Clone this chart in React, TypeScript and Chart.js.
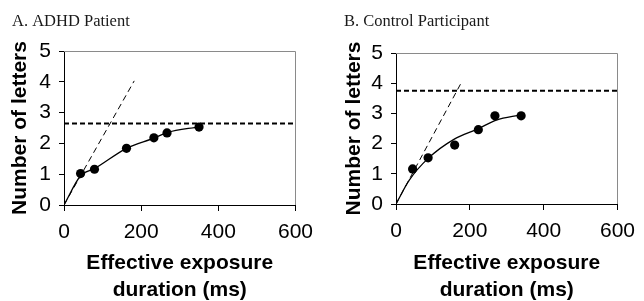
import React, { useEffect, useRef } from "react";
import { Chart, registerables } from "chart.js";

Chart.register(...registerables);

// ---- shared axis ticks ----
const xTickValues = [0, 200, 400, 600];
const yTickValues = [0, 1, 2, 3, 4, 5];
const xAxisTitle = ["Effective exposure", "duration (ms)"];
const yAxisTitle = "Number of letters";

// ---- Panel A: ADHD patient ----
const adhdLabel = "A. ADHD Patient";
const adhdExposure = [43, 79, 162, 233, 267, 350];
const adhdLetters = [1.02, 1.16, 1.84, 2.18, 2.34, 2.53];
const adhdFitExposure = [0, 43, 79, 162, 233, 267, 350];
const adhdFitLetters = [0, 0.95, 1.18, 1.84, 2.17, 2.35, 2.54];
const adhdSlopeExposure = [0, 182];
const adhdSlopeLetters = [0, 4.03];
const adhdCapacityExposure = [0, 600];
const adhdCapacity = [2.65, 2.65];

// ---- Panel B: Control participant ----
const ctrlLabel = "B. Control Participant";
const ctrlExposure = [45, 87, 159, 223, 268, 339];
const ctrlLetters = [1.16, 1.53, 1.95, 2.46, 2.92, 2.92];
const ctrlFitExposure = [0, 36, 87, 158, 221, 272, 337];
const ctrlFitLetters = [0, 0.79, 1.51, 2.15, 2.48, 2.78, 2.95];
const ctrlSlopeExposure = [0, 177];
const ctrlSlopeLetters = [0, 4.02];
const ctrlCapacityExposure = [0, 600];
const ctrlCapacity = [3.75, 3.75];

const zip = (xs: number[], ys: number[]) => xs.map((x, i) => ({ x, y: ys[i] }));

const SANS = '"Liberation Sans", Arial, Helvetica, sans-serif';
const SERIF = '"Liberation Serif", "Times New Roman", serif';

const framePlugin = {
  id: "frame",
  beforeDatasetsDraw(chart: any) {
    const { ctx, chartArea } = chart;
    const { left, right, top, bottom } = chartArea;
    ctx.save();
    ctx.strokeStyle = "#8a8a8a";
    ctx.lineWidth = 1;
    ctx.beginPath();
    ctx.moveTo(left, Math.round(top) + 0.5);
    ctx.lineTo(Math.round(right) + 0.5, Math.round(top) + 0.5);
    ctx.lineTo(Math.round(right) + 0.5, bottom);
    ctx.stroke();
    ctx.restore();
  },
};

const panelLabelPlugin = {
  id: "panelLabel",
  afterDraw(chart: any, _args: any, opts: any) {
    const { ctx } = chart;
    ctx.save();
    ctx.font = `16.5px ${SERIF}`;
    ctx.fillStyle = "#1a1a1a";
    ctx.textBaseline = "alphabetic";
    ctx.textAlign = "left";
    ctx.fillText(opts.text, opts.x, opts.y);
    ctx.restore();
  },
};

type PanelProps = {
  label: string;
  exposure: number[];
  letters: number[];
  fitX: number[];
  fitY: number[];
  slopeX: number[];
  slopeY: number[];
  capX: number[];
  capY: number[];
  plotLeft: number;
  plotRight: number;
  plotTop: number;
  plotBottom: number;
  yTitleCenter: number;
  labelX: number;
  left: number;
};

const W = 322;
const H = 301;

function Panel(p: PanelProps) {
  const ref = useRef<HTMLCanvasElement | null>(null);
  useEffect(() => {
    if (!ref.current) return;
    const tickFont = { family: SANS, size: 21, lineHeight: 1.2 };
    const titleFont = { family: SANS, size: 21, weight: "bold" as const, lineHeight: "27px" };
    const chart = new Chart(ref.current, {
      type: "scatter",
      data: {
        datasets: [
          {
            label: "observed",
            data: zip(p.exposure, p.letters),
            backgroundColor: "#000",
            borderColor: "#000",
            borderWidth: 0,
            pointRadius: 4.6,
            showLine: false,
          },
          {
            label: "fit",
            data: zip(p.fitX, p.fitY),
            borderColor: "#000",
            borderWidth: 1.3,
            pointRadius: 0,
            showLine: true,
            cubicInterpolationMode: "monotone",
          },
          {
            label: "capacity",
            data: zip(p.capX, p.capY),
            borderColor: "#000",
            borderWidth: 2,
            borderDash: [5, 3],
            pointRadius: 0,
            showLine: true,
          },
          {
            label: "rate",
            data: zip(p.slopeX, p.slopeY),
            borderColor: "#000",
            borderWidth: 1,
            borderDash: [6, 4],
            pointRadius: 0,
            showLine: true,
          },
        ],
      },
      options: {
        responsive: false,
        animation: false,
        devicePixelRatio: 1,
        layout: {
          padding: { left: 0, top: p.plotTop, right: W - p.plotRight, bottom: 0 },
        },
        plugins: {
          legend: { display: false },
          tooltip: { enabled: false },
          panelLabel: { text: p.label, x: p.labelX, y: 26 },
        } as any,
        scales: {
          x: {
            type: "linear",
            min: 0,
            max: 600,
            afterFit: (s: any) => {
              s.height = H - p.plotBottom;
            },
            afterBuildTicks: (s: any) => {
              s.ticks = xTickValues.map((v) => ({ value: v }));
            },
            ticks: { font: tickFont, color: "#000", padding: 9, maxRotation: 0 },
            grid: {
              display: true,
              drawOnChartArea: false,
              drawTicks: true,
              tickLength: 6,
              color: "#000",
              tickColor: "#000",
              lineWidth: 1,
            },
            border: { display: true, color: "#000", width: 1 },
            title: {
              display: true,
              text: xAxisTitle,
              font: titleFont,
              color: "#000",
              padding: { top: 0, bottom: -3 },
            },
          },
          y: {
            type: "linear",
            min: 0,
            max: 5,
            afterFit: (s: any) => {
              s.width = p.plotLeft;
            },
            afterBuildTicks: (s: any) => {
              s.ticks = yTickValues.map((v) => ({ value: v }));
            },
            ticks: { font: tickFont, color: "#000", padding: 8 },
            grid: {
              display: true,
              drawOnChartArea: false,
              drawTicks: true,
              tickLength: 5,
              color: "#000",
              tickColor: "#000",
              lineWidth: 1,
            },
            border: { display: true, color: "#000", width: 1 },
            title: {
              display: true,
              text: yAxisTitle,
              font: { family: SANS, size: 21, weight: "bold" as const, lineHeight: "25px" },
              color: "#000",
              padding: { top: p.yTitleCenter - 12.5, bottom: 0 },
            },
          },
        },
      },
      plugins: [framePlugin, panelLabelPlugin],
    } as any);
    return () => chart.destroy();
  }, []);
  return (
    <canvas
      ref={ref}
      width={W}
      height={H}
      style={{ position: "absolute", left: p.left, top: 0, width: W, height: H }}
    />
  );
}

export default function App() {
  return (
    <div
      style={{
        position: "fixed",
        left: 0,
        top: 0,
        width: 644,
        height: 301,
        background: "#fff",
        overflow: "hidden",
      }}
    >
      <Panel
        label={adhdLabel}
        exposure={adhdExposure}
        letters={adhdLetters}
        fitX={adhdFitExposure}
        fitY={adhdFitLetters}
        slopeX={adhdSlopeExposure}
        slopeY={adhdSlopeLetters}
        capX={adhdCapacityExposure}
        capY={adhdCapacity}
        plotLeft={64}
        plotRight={298}
        plotTop={51}
        plotBottom={205}
        yTitleCenter={20}
        labelX={12}
        left={0}
      />
      <Panel
        label={ctrlLabel}
        exposure={ctrlExposure}
        letters={ctrlLetters}
        fitX={ctrlFitExposure}
        fitY={ctrlFitLetters}
        slopeX={ctrlSlopeExposure}
        slopeY={ctrlSlopeLetters}
        capX={ctrlCapacityExposure}
        capY={ctrlCapacity}
        plotLeft={74}
        plotRight={303}
        plotTop={53}
        plotBottom={204}
        yTitleCenter={32}
        labelX={22}
        left={322}
      />
    </div>
  );
}
